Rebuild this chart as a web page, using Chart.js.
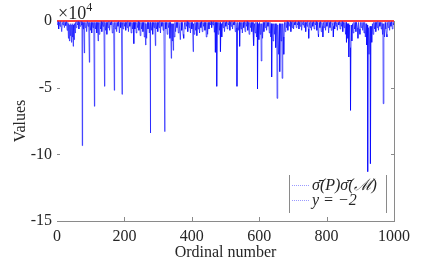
<!DOCTYPE html>
<html>
<head>
<meta charset="utf-8">
<script src="https://cdn.jsdelivr.net/npm/chart.js@4"></script>
<style>
html,body{margin:0;padding:0;background:#fff;}
#wrap{width:436px;height:261px;position:relative;}
</style>
</head>
<body>
<div id="wrap"><canvas id="c" width="436" height="261"></canvas></div>
<script>
// Values are in units of 10^4 (axis multiplier shown as ×10^4)
const ordinals = [
1,3,5,7,9,11,14,16,18,20,22,24,26,28,30,32,
34,35,37,38,40,41,43,44,46,47,48,49,51,52,54,55,
57,59,61,63,65,67,69,71,73,74,75,76,78,79,81,82,84,86,88,90,92,94,96,97,99,101,103,105,107,109,111,112,114,116,118,120,122,123,125,127,129,131,133,135,137,139,141,142,144,146,148,150,152,154,156,158,160,162,164,166,168,170,171,173,175,177,179,181,183,185,187,189,191,193,194,196,198,200,
202,204,206,208,210,212,214,216,218,220,222,224,226,228,229,231,233,235,237,239,241,243,245,247,249,251,253,255,257,259,261,263,264,266,268,270,272,274,276,277,278,280,282,284,286,288,290,292,293,295,297,299,301,303,305,307,309,311,313,315,317,320,321,323,325,327,329,331,333,335,337,339,340,342,343,345,346,348,350,352,354,356,358,360,362,364,366,368,370,372,374,376,378,380,382,384,386,388,390,392,394,396,398,400,
402,404,405,407,409,411,413,415,417,419,421,423,425,427,429,431,433,435,437,439,441,443,445,447,449,451,453,455,457,459,461,463,465,467,469,470,473,474,476,478,480,482,484,485,487,489,491,493,495,497,499,501,503,505,507,509,511,513,515,517,519,521,523,525,527,529,531,533,534,536,538,541,542,544,546,548,550,552,554,556,558,560,562,564,566,568,570,572,574,576,578,580,582,583,584,586,588,590,592,594,595,597,599,
601,603,605,606,608,610,612,614,616,618,620,622,624,626,628,630,632,634,636,637,639,641,643,645,647,649,652,653,655,657,660,661,663,665,667,668,670,672,673,675,677,679,681,683,685,687,689,692,694,696,698,700,702,704,706,708,710,712,714,716,718,720,722,724,726,728,730,732,734,736,738,740,742,744,746,747,749,751,753,755,757,759,761,763,765,767,769,771,773,775,776,778,780,782,784,786,788,789,791,793,795,797,799,
801,804,806,808,810,812,814,816,819,820,822,824,826,828,830,832,834,836,838,840,842,844,846,848,850,852,854,856,858,859,861,863,864,866,868,870,871,873,875,877,879,881,883,885,887,889,892,893,895,897,899,901,903,905,907,909,911,913,915,917,919,921,922,924,926,929,930,932,934,936,938,940,942,944,946,948,950,952,954,956,958,960,962,964,966,967,968,970,972,974,976,978,979,981,983,985,987,989,991,993,995,997,999,1000
];
const values = [
-0.3,-0.05,-0.6,-0.1,-0.4,-0.05,-0.8,-0.1,-0.3,-0.05,-0.5,-0.1,-0.35,-0.05,-0.7,-0.1,
-1.3,-0.2,-1.5,-0.3,-1.1,-0.2,-1.6,-0.3,-1.2,-0.2,-1.9,-0.3,-1.4,-0.2,-0.9,-0.1,
-0.5,-0.05,-0.3,-0.05,-0.6,-0.1,-0.4,-0.05,-0.3,-0.05,-9.35,-0.1,-0.6,-0.1,-2.4,-0.1,-0.5,-0.1,-0.8,-0.05,-0.4,-0.1,-3.1,-0.1,-0.7,-0.1,-0.9,-0.1,-0.5,-0.1,-6.4,-0.1,-0.6,-0.1,-0.9,-0.1,-1.5,-0.1,-1.0,-0.1,-0.6,-0.05,-0.8,-0.1,-0.4,-0.05,-4.9,-0.1,-0.7,-0.1,-1.0,-0.1,-0.5,-0.05,-0.7,-0.1,-0.3,-0.05,-0.9,-0.1,-0.5,-5.2,-0.1,-0.6,-0.1,-0.8,-0.1,-0.4,-0.05,-0.9,-0.1,-0.5,-0.1,-5.5,-0.1,-0.6,-0.1,-0.4,
-0.1,-0.7,-0.1,-0.5,-0.05,-0.8,-0.1,-0.4,-0.1,-0.9,-0.1,-0.6,-0.1,-1.7,-0.1,-0.6,-0.1,-0.9,-0.1,-0.5,-0.05,-0.7,-0.1,-1.1,-0.1,-0.6,-0.1,-0.8,-0.1,-1.2,-0.1,-1.8,-0.2,-1.3,-0.1,-0.6,-0.1,-0.9,-0.1,-8.4,-0.1,-0.7,-0.1,-1.0,-0.1,-0.5,-0.1,-1.85,-0.1,-0.6,-0.1,-0.8,-0.1,-0.5,-0.05,-0.9,-0.1,-0.4,-0.1,-0.7,-0.1,-8.3,-0.1,-0.6,-0.1,-1.0,-0.1,-0.5,-0.1,-1.3,-0.1,-2.8,-0.2,-1.5,-0.2,-2.2,-0.2,-1.2,-0.1,-0.8,-0.1,-0.5,-0.1,-0.9,-0.1,-0.6,-1.4,-0.1,-0.7,-0.1,-1.0,-1.3,-0.1,-0.6,-0.1,-0.4,-0.05,-0.8,-0.1,-0.5,-0.1,-0.9,-0.1,-0.6,
-0.1,-2.3,-0.2,-1.0,-0.1,-0.7,-0.1,-1.1,-0.1,-0.6,-0.1,-0.9,-0.1,-0.5,-0.05,-0.8,-0.1,-0.4,-0.1,-0.7,-0.1,-1.2,-0.1,-1.0,-0.1,-0.6,-0.1,-0.3,-0.05,-0.5,-0.1,-0.3,-0.05,-0.85,-0.1,-2.35,-0.1,-4.9,-0.1,-1.0,-0.1,-0.7,-0.1,-2.3,-0.2,-1.2,-0.1,-0.5,-0.05,-0.8,-0.1,-0.4,-0.05,-0.6,-0.1,-0.3,-0.05,-0.7,-0.1,-0.4,-0.05,-0.6,-0.1,-0.3,-0.05,-0.8,-0.1,-0.5,-4.9,-0.1,-0.7,-0.1,-1.9,-0.1,-0.6,-0.1,-0.9,-0.1,-0.5,-0.05,-0.8,-0.1,-0.4,-0.05,-0.7,-0.1,-1.0,-0.1,-0.5,-0.1,-0.8,-0.1,-1.1,-0.1,-1.85,-0.2,-0.9,-0.1,-1.2,-0.1,-5.1,-0.2,-1.4,-0.1,
-1.0,-0.2,-3.0,-0.2,-1.3,-0.1,-0.8,-0.1,-0.5,-0.05,-0.7,-0.1,-0.4,-0.1,-0.9,-0.1,-1.2,-0.2,-4.2,-0.2,-1.5,-0.2,-1.0,-0.2,-2.0,-0.2,-5.8,-0.3,-2.5,-0.2,-3.8,-0.2,-1.5,-0.2,-4.3,-0.2,-1.2,-2.5,-0.1,-0.8,-0.1,-0.5,-0.05,-0.7,-0.1,-0.4,-0.05,-0.8,-0.1,-0.5,-0.05,-0.6,-0.1,-0.3,-0.05,-0.5,-0.1,-0.3,-0.05,-0.6,-0.1,-0.4,-0.05,-0.7,-0.1,-0.3,-0.05,-0.5,-0.1,-0.8,-0.1,-0.4,-0.05,-0.6,-1.3,-0.1,-0.5,-0.05,-0.7,-0.1,-0.4,-0.05,-0.6,-0.1,-0.3,-0.05,-0.7,-0.1,-1.0,-1.2,-0.1,-0.5,-0.05,-0.8,-0.1,-0.4,-1.2,-0.1,-0.5,-0.05,-0.7,-0.1,-0.4,
-0.05,-0.9,-0.1,-0.5,-0.05,-0.7,-0.1,-0.4,-1.2,-0.1,-0.6,-0.05,-0.4,-0.1,-0.7,-0.1,-0.3,-0.05,-0.6,-0.1,-0.4,-0.05,-0.8,-0.1,-0.5,-0.1,-1.0,-0.1,-1.6,-0.2,-1.3,-0.2,-2.7,-0.3,-2.0,-6.7,-0.3,-1.5,-0.2,-0.9,-0.1,-0.6,-0.1,-0.8,-0.1,-0.5,-1.3,-0.1,-0.6,-1.0,-0.1,-0.5,-0.1,-0.7,-0.1,-0.9,-0.1,-1.2,-0.2,-1.8,-0.3,-11.3,-0.5,-2.5,-0.4,-10.7,-0.4,-1.6,-0.2,-1.0,-0.1,-0.6,-0.1,-0.8,-0.1,-0.5,-0.05,-0.7,-0.1,-0.4,-0.1,-0.6,-0.1,-1.0,-0.2,-6.2,-0.2,-1.2,-0.1,-0.6,-1.0,-1.2,-0.1,-0.5,-0.05,-0.7,-0.1,-0.4,-0.05,-0.6,-0.1,-0.3,-0.05,-0.2
];
const refLineX = [0, 1000];
const refLineValue = -2;          // y = -2 (raw units)
const axisMultiplier = 1e4;
const xTicks = [0, 200, 400, 600, 800, 1000];
const yTicks = [0, -5, -10, -15];
const seriesLabels = ['\u03C3\u0304(P)\u03C3\u0304(\u2133)', 'y = \u22122'];

const blueData = ordinals.map((x, i) => ({x: x, y: values[i]}));
const redData = refLineX.map(x => ({x: x, y: refLineValue / axisMultiplier}));

const AXIS = '#8a8a8a';
const TXT = '#262626';
const SERIF = '"Liberation Serif","DejaVu Serif",serif';

const decor = {
  id: 'decor',
  afterDatasetsDraw(chart) {
    const ctx = chart.ctx, ca = chart.chartArea;
    const xs = chart.scales.x, ys = chart.scales.y;
    ctx.save();
    ctx.strokeStyle = AXIS;
    ctx.lineWidth = 1;
    ctx.beginPath();
    ctx.moveTo(Math.round(ca.right) + 0.5, ca.top);
    ctx.lineTo(Math.round(ca.right) + 0.5, ca.bottom);
    ctx.stroke();
    yTicks.forEach(v => {
      const py = Math.round(ys.getPixelForValue(v)) + 0.5;
      if (v === 0 || v === -15) return;
      ctx.beginPath();
      ctx.moveTo(ca.left, py); ctx.lineTo(ca.left + 3, py);
      ctx.moveTo(ca.right, py); ctx.lineTo(ca.right - 3, py);
      ctx.stroke();
    });
    xTicks.forEach(v => {
      const px = Math.round(xs.getPixelForValue(v)) + 0.5;
      if (v === 0 || v === 1000) return;
      ctx.beginPath();
      ctx.moveTo(px, ca.bottom); ctx.lineTo(px, ca.bottom - 4);
      ctx.stroke();
    });
    ctx.fillStyle = TXT;
    ctx.textBaseline = 'alphabetic';
    ctx.textAlign = 'left';
    ctx.font = '18px ' + SERIF;
    ctx.fillText('\u00D710', ca.left + 1, 19);
    const w = ctx.measureText('\u00D710').width;
    ctx.font = '12px ' + SERIF;
    ctx.fillText('4', ca.left + 1 + w, 11);
    // legend
    const lx = 289, ty = 175, by = 213, rx = 386;
    ctx.strokeStyle = AXIS;
    ctx.beginPath();
    ctx.moveTo(lx + 0.5, ty); ctx.lineTo(lx + 0.5, by);
    ctx.moveTo(rx + 0.5, ty); ctx.lineTo(rx + 0.5, by);
    ctx.stroke();
    ctx.strokeStyle = '#9a9aff';
    ctx.setLineDash([1, 1]);
    [185.5, 200.5].forEach(yy => {
      ctx.beginPath(); ctx.moveTo(292, yy); ctx.lineTo(310, yy); ctx.stroke();
    });
    ctx.setLineDash([]);
    ctx.fillStyle = TXT;
    ctx.font = 'italic 16px ' + SERIF;
    ctx.fillText(seriesLabels[0], 312, 190);
    ctx.fillText(seriesLabels[1], 312, 205);
    ctx.restore();
  }
};

new Chart(document.getElementById('c'), {
  type: 'line',
  data: {
    datasets: [
      {data: blueData, borderColor: '#0000ff', borderWidth: 0.6, pointRadius: 0, tension: 0, fill: false},
      {data: redData, borderColor: '#ff0000', borderWidth: 1.5, pointRadius: 0, tension: 0, fill: false, clip: false}
    ]
  },
  options: {
    responsive: false,
    animation: false,
    events: [],
    layout: {padding: {top: 21, right: 42, left: 0, bottom: 0}},
    plugins: {legend: {display: false}, tooltip: {enabled: false}},
    scales: {
      x: {
        type: 'linear', min: 0, max: 1000,
        afterFit: s => { s.height = 40; },
        afterBuildTicks: s => { s.ticks = xTicks.map(v => ({value: v})); },
        grid: {display: false, drawTicks: false},
        border: {display: true, color: AXIS, width: 1},
        ticks: {padding: 6, color: TXT, font: {family: SERIF, size: 16}, maxRotation: 0, callback: v => String(v)},
        title: {display: true, text: 'Ordinal number', color: TXT, font: {family: SERIF, size: 16, lineHeight: 1}, padding: {top: 0, bottom: 0}}
      },
      y: {
        type: 'linear', min: -15, max: 0,
        afterFit: s => { s.width = 57; },
        afterBuildTicks: s => { s.ticks = yTicks.map(v => ({value: v})); },
        grid: {display: false, drawTicks: false},
        border: {display: false},
        ticks: {padding: 5, color: TXT, font: {family: SERIF, size: 16}, callback: v => String(v)},
        title: {display: true, text: 'Values', color: TXT, font: {family: SERIF, size: 16}, padding: {top: 11, bottom: 0}}
      }
    }
  },
  plugins: [decor]
});
</script>
</body>
</html>
